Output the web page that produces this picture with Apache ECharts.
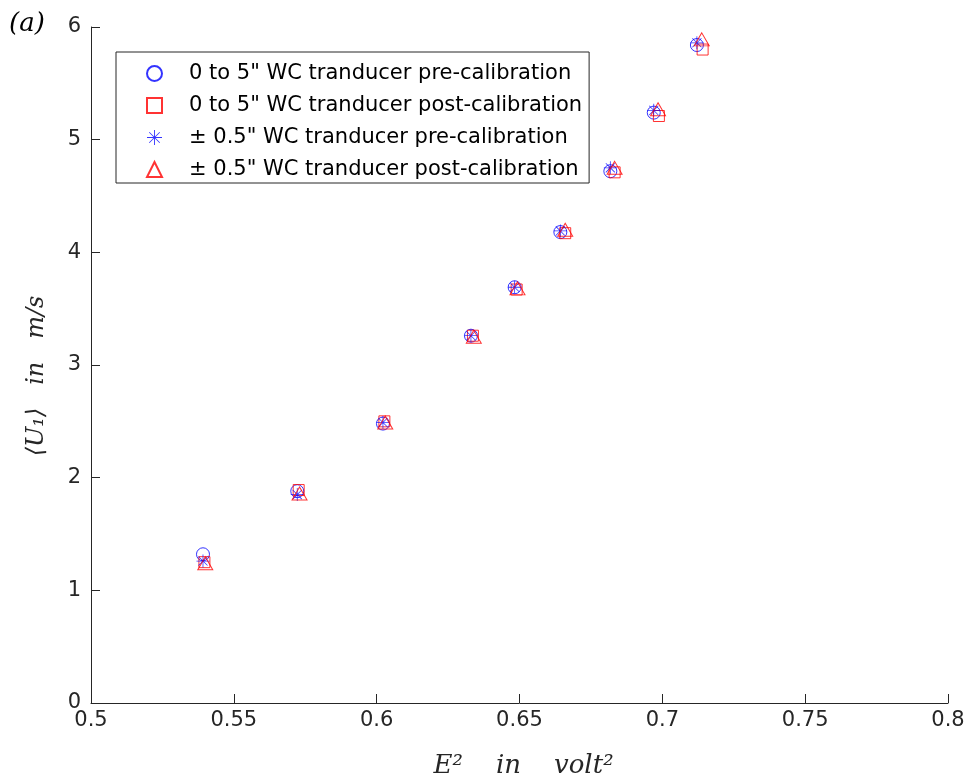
<!DOCTYPE html>
<html><head><meta charset="utf-8">
<script src="https://cdn.jsdelivr.net/npm/echarts@6/dist/echarts.min.js"></script>
<style>html,body{margin:0;padding:0;background:#fff}#c{width:971px;height:784px}</style>
</head><body><div id="c"></div>
<script>
const seriesNames = [
  '0 to 5" WC tranducer pre-calibration',
  '0 to 5" WC tranducer post-calibration',
  '\u00b1 0.5" WC tranducer pre-calibration',
  '\u00b1 0.5" WC tranducer post-calibration'
];
const preWideX   = [0.5392, 0.5722, 0.6022, 0.6330, 0.6483, 0.6643, 0.6818, 0.6970, 0.7121];
const preWideY   = [1.32, 1.88, 2.48, 3.26, 3.69, 4.18, 4.72, 5.24, 5.84];
const postWideX  = [0.5397, 0.5727, 0.6027, 0.6337, 0.6490, 0.6660, 0.6833, 0.6988, 0.7141];
const postWideY  = [1.25, 1.89, 2.50, 3.26, 3.67, 4.17, 4.71, 5.21, 5.80];
const preFineX   = [0.5392, 0.5722, 0.6022, 0.6330, 0.6483, 0.6643, 0.6818, 0.6970, 0.7121];
const preFineY   = [1.26, 1.85, 2.49, 3.26, 3.69, 4.19, 4.75, 5.26, 5.86];
const postFineX  = [0.5400, 0.5730, 0.6030, 0.6340, 0.6493, 0.6660, 0.6833, 0.6985, 0.7138];
const postFineY  = [1.24, 1.86, 2.49, 3.25, 3.68, 4.20, 4.75, 5.27, 5.89];
const xTicks = [0.5, 0.55, 0.6, 0.65, 0.7, 0.75, 0.8];
const yTicks = [0, 1, 2, 3, 4, 5, 6];

const pair = (xs, ys) => xs.map((x, i) => [x, ys[i]]);
const asterisk = 'path://M47 0L53 0L53 100L47 100Z M0 47L100 47L100 53L0 53Z M13 17L17 13L87 83L83 87Z M83 13L87 17L17 87L13 83Z';
const axisColor = '#262626';
const tickFont = {color: axisColor, fontSize: 21, fontFamily: 'DejaVu Sans, sans-serif'};

const chart = echarts.init(document.getElementById('c'), null, {renderer: 'canvas'});
chart.setOption({
  animation: false,
  backgroundColor: '#fff',
  grid: {left: 91, right: 23, top: 27, bottom: 80, containLabel: false},
  xAxis: {
    type: 'value', min: xTicks[0], max: xTicks[xTicks.length - 1], interval: 0.05,
    axisLine: {show: true, lineStyle: {color: axisColor, width: 1}},
    axisTick: {show: true, inside: true, length: 9, lineStyle: {color: axisColor}},
    axisLabel: Object.assign({margin: 7, formatter: v => String(+v.toFixed(2))}, tickFont),
    splitLine: {show: false},
    name: 'E\u00b2    in    volt\u00b2', nameLocation: 'middle', nameGap: 50,
    nameTextStyle: {fontFamily: 'DejaVu Serif, serif', fontStyle: 'italic', fontSize: 26, color: axisColor, padding: [0, 0, 0, 8]}
  },
  yAxis: {
    type: 'value', min: yTicks[0], max: yTicks[yTicks.length - 1], interval: 1,
    axisLine: {show: true, lineStyle: {color: axisColor, width: 1}},
    axisTick: {show: true, inside: true, length: 9, lineStyle: {color: axisColor}},
    axisLabel: Object.assign({margin: 10}, tickFont),
    splitLine: {show: false},
    name: '\u27e8U\u2081\u27e9   in   m/s', nameLocation: 'middle', nameGap: 42,
    nameTextStyle: {fontFamily: 'DejaVu Serif, serif', fontStyle: 'italic', fontSize: 24, color: axisColor, padding: [0, 22, 0, 0]}
  },
  legend: {
    orient: 'vertical', left: 116, top: 52,
    backgroundColor: '#fff', borderColor: axisColor, borderWidth: 1,
    padding: [11, 7, 3, 30], itemGap: 11, itemWidth: 15, itemHeight: 15,
    textStyle: {color: '#000', fontSize: 21, fontFamily: 'DejaVu Sans, sans-serif', padding: [0, 0, 0, 22]},
    data: seriesNames
  },
  graphic: [{
    type: 'text', left: 9, top: 11,
    style: {text: '(a)', fontFamily: 'DejaVu Serif, serif', fontStyle: 'italic', fontSize: 26, fill: '#000'}
  }],
  series: [
    {name: seriesNames[0], type: 'scatter', symbol: 'circle', symbolSize: 13, data: pair(preWideX, preWideY),
     itemStyle: {color: 'rgba(0,0,0,0)', borderColor: '#0000ff', borderWidth: 1}},
    {name: seriesNames[1], type: 'scatter', symbol: 'rect', symbolSize: 11, data: pair(postWideX, postWideY),
     itemStyle: {color: 'rgba(0,0,0,0)', borderColor: '#ff0000', borderWidth: 1}},
    {name: seriesNames[2], type: 'scatter', symbol: asterisk, symbolSize: 13, data: pair(preFineX, preFineY),
     itemStyle: {color: '#0000ff', borderWidth: 0}},
    {name: seriesNames[3], type: 'scatter', symbol: 'triangle', symbolSize: [15, 13], data: pair(postFineX, postFineY),
     itemStyle: {color: 'rgba(0,0,0,0)', borderColor: '#ff0000', borderWidth: 1}}
  ]
});
</script></body></html>
